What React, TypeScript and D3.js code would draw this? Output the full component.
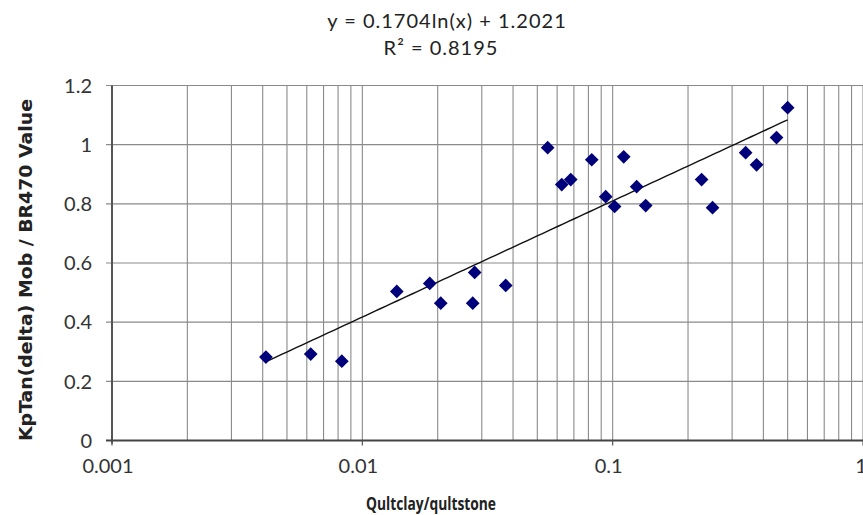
import React from "react";
import * as d3 from "d3";

const xValues = [0.00412, 0.00622, 0.00828, 0.01373, 0.01859, 0.02057, 0.0281, 0.0276, 0.0374, 0.055, 0.0626, 0.068, 0.0825, 0.0938, 0.1018, 0.1107, 0.1247, 0.1355, 0.2266, 0.2506, 0.3398, 0.3757, 0.4514, 0.5];
const yValues = [0.282, 0.292, 0.268, 0.504, 0.531, 0.464, 0.568, 0.464, 0.524, 0.99, 0.865, 0.882, 0.949, 0.824, 0.791, 0.959, 0.858, 0.794, 0.882, 0.787, 0.973, 0.932, 1.024, 1.125];
const xTickValues = [0.001, 0.01, 0.1, 1];
const xTickLabels = ["0.001", "0.01", "0.1", "1"];
const yTickValues = [0, 0.2, 0.4, 0.6, 0.8, 1, 1.2];
const yTickLabels = ["0", "0.2", "0.4", "0.6", "0.8", "1", "1.2"];
const trendA = 0.1704;
const trendB = 1.2021;
const equationText = "y = 0.1704ln(x) + 1.2021";
const r2Text = "R² = 0.8195";
const xTitle = "Qultclay/qultstone";
const yTitle = "KpTan(delta) Mob / BR470 Value";

export default function App() {
  const W = 863, H = 515;
  const left = 112, right = 863, top = 85.5, bottom = 440.5;
  const x = d3.scaleLog().domain([0.001, 1]).range([left, right]);
  const y = d3.scaleLinear().domain([0, 1.2]).range([bottom, top]);
  const minor = x.ticks();
  const font = "'Lato', 'DejaVu Sans', sans-serif";

  const xMin = d3.min(xValues) as number;
  const xMax = d3.max(xValues) as number;
  const trendPts = d3.range(0, 101).map((i) => {
    const xv = Math.exp(Math.log(xMin) + (Math.log(xMax) - Math.log(xMin)) * i / 100);
    return [x(xv), y(trendA * Math.log(xv) + trendB)] as [number, number];
  });
  const line = d3.line();
  const diamond = d3.symbol().type(d3.symbolDiamond2 || d3.symbolDiamond).size(120)();

  return (
    <svg width={W} height={H} style={{ position: "absolute", left: 0, top: 0, background: "#fff" }}>
      <rect x={0} y={0} width={W} height={H} fill="#fff" />
      {minor.map((t, i) => (
        <line key={"vx" + i} x1={x(t)} x2={x(t)} y1={top} y2={bottom} stroke="#8a8a8a" strokeWidth={1.1} />
      ))}
      {yTickValues.map((t, i) => (
        <line key={"hy" + i} x1={left - 6} x2={right} y1={y(t)} y2={y(t)} stroke="#8a8a8a" strokeWidth={1.1} />
      ))}
      <line x1={left} x2={left} y1={top} y2={bottom + 3} stroke="#555" strokeWidth={2} />
      <line x1={left - 6} x2={right} y1={bottom} y2={bottom} stroke="#444" strokeWidth={2} />
      {xTickValues.map((t, i) => (
        <line key={"xt" + i} x1={x(t)} x2={x(t)} y1={bottom} y2={bottom + 5} stroke="#555" strokeWidth={1.2} />
      ))}
      {yTickValues.map((t, i) => (
        <text key={"yl" + i} x={92} y={y(t)} dy="0.36em" textAnchor="end" fontFamily={font} fontSize={20} fill="#333">
          {yTickLabels[i]}
        </text>
      ))}
      {xTickValues.map((t, i) => (
        <text key={"xl" + i} x={i === 3 ? x(t) - 2 : x(t) - 4} y={473} textAnchor="middle" fontFamily={font} fontSize={20} fill="#333">
          {xTickLabels[i]}
        </text>
      ))}
      <path d={line(trendPts) || ""} fill="none" stroke="#111" strokeWidth={1.4} />
      {xValues.map((xv, i) => (
        <path key={"p" + i} d={diamond || ""} transform={`translate(${x(xv)},${y(yValues[i])})`} fill="#00007a" />
      ))}
      <text x={447} y={28} textAnchor="middle" fontFamily={font} fontSize={20} letterSpacing={1} fill="#222">{equationText}</text>
      <text x={441} y={55} textAnchor="middle" fontFamily={font} fontSize={20} letterSpacing={1} fill="#222">{r2Text}</text>
      <text x={431} y={510} textAnchor="middle" fontFamily="'Open Sans', sans-serif" fontWeight={700} fontSize={17} textLength={130} lengthAdjust="spacingAndGlyphs" fill="#222">{xTitle}</text>
      <text transform={`translate(32,${270}) rotate(-90)`} textAnchor="middle" fontFamily="'DejaVu Sans', sans-serif" fontWeight={700} fontSize={18} textLength={342} lengthAdjust="spacingAndGlyphs" fill="#222">{yTitle}</text>
    </svg>
  );
}
